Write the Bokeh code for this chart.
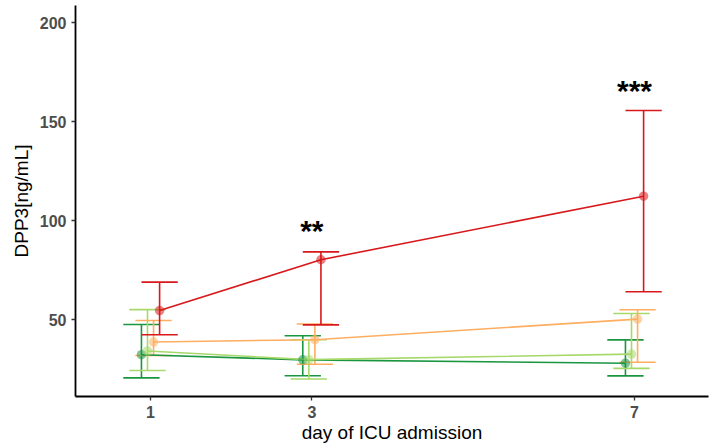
from bokeh.plotting import figure
from bokeh.models import FixedTicker, Range1d, ColumnDataSource
from bokeh.embed import file_html
from bokeh.resources import INLINE
from bokeh.core.properties import value

# ---- data -------------------------------------------------------------
days = [1, 3, 7]
day_labels = ["1", "3", "7"]
y_ticks = [50, 100, 150, 200]

groups = ["group 1", "group 2", "group 3", "group 4"]
colors = ["#1a9641", "#a6d96a", "#fdae61", "#d7191c"]
dodge = [-0.1125, -0.0375, 0.0375, 0.1125]

g1_mean = [32.3, 29.7, 28.0]
g1_low = [20.6, 21.7, 21.6]
g1_high = [47.6, 41.9, 39.8]

g2_mean = [34.2, 29.8, 32.6]
g2_low = [24.3, 20.0, 25.4]
g2_high = [55.1, 39.9, 53.1]

g3_mean = [38.7, 39.9, 50.3]
g3_low = [31.9, 27.5, 28.5]
g3_high = [49.6, 47.8, 55.0]

g4_mean = [54.6, 80.3, 112.4]
g4_low = [42.4, 47.4, 64.1]
g4_high = [69.0, 84.3, 155.7]

means = [g1_mean, g2_mean, g3_mean, g4_mean]
lows = [g1_low, g2_low, g3_low, g4_low]
highs = [g1_high, g2_high, g3_high, g4_high]

sig_days = [3, 7]
sig_labels = ["**", "***"]
sig_y = [95.0, 165.6]

cap_half = 0.225
FONT = "Liberation Sans"

# ---- figure -----------------------------------------------------------
p = figure(width=709, height=445, output_backend="svg", toolbar_location=None,
           x_range=Range1d(0.07, 7.917), y_range=Range1d(11.18, 208.8),
           min_border_left=75, min_border_right=1, min_border_top=5,
           min_border_bottom=48)
p.title.visible = False
p.outline_line_color = None
p.xgrid.visible = False
p.ygrid.visible = False
p.background_fill_color = "white"
p.border_fill_color = "white"

# error bars
for k in range(4):
    xs = [d + dodge[k] for d in days]
    src = ColumnDataSource(dict(x=xs, lo=lows[k], hi=highs[k],
                                x0=[x - cap_half for x in xs],
                                x1=[x + cap_half for x in xs]))
    p.segment(x0="x", y0="lo", x1="x", y1="hi", source=src,
              line_color=colors[k], line_width=1.6)
    p.segment(x0="x0", y0="hi", x1="x1", y1="hi", source=src,
              line_color=colors[k], line_width=1.6)
    p.segment(x0="x0", y0="lo", x1="x1", y1="lo", source=src,
              line_color=colors[k], line_width=1.6)

# lines
for k in range(4):
    xs = [d + dodge[k] for d in days]
    p.line(xs, means[k], line_color=colors[k], line_width=1.6)

# points
for k in range(4):
    xs = [d + dodge[k] for d in days]
    p.scatter(xs, means[k], size=9.5, fill_color=colors[k], fill_alpha=0.55,
              line_color=None)

# significance marks
p.text(x=sig_days, y=sig_y, text=sig_labels, text_font=value(FONT),
       text_font_size="30px", text_font_style="bold", text_align="center",
       text_baseline="alphabetic", text_color="black")

# axes
for ax in (p.xaxis[0], p.yaxis[0]):
    ax.axis_line_color = "black"
    ax.axis_line_width = 1.8
    ax.major_tick_line_color = "#333333"
    ax.major_tick_line_width = 1.3
    ax.major_tick_out = 4
    ax.major_tick_in = 0
    ax.minor_tick_line_color = None
    ax.major_label_text_font = FONT
    ax.major_label_text_font_size = "16px"
    ax.major_label_text_font_style = "bold"
    ax.major_label_text_color = "#4d4d4d"
    ax.axis_label_text_font = FONT
    ax.axis_label_text_font_style = "normal"
    ax.axis_label_text_color = "black"

p.xaxis.ticker = FixedTicker(ticks=days)
p.xaxis.major_label_overrides = {d: s for d, s in zip(days, day_labels)}
p.xaxis.major_label_standoff = 5
p.xaxis.major_label_text_line_height = 1.0
p.xaxis.axis_label = "day of ICU admission"
p.xaxis.axis_label_text_font_size = "19px"
p.xaxis.axis_label_text_line_height = 1.0
p.xaxis.axis_label_standoff = 1

p.yaxis.ticker = FixedTicker(ticks=y_ticks)
p.yaxis.major_label_standoff = 5
p.yaxis.axis_label = "DPP3[ng/mL]"
p.yaxis.axis_label_text_font_size = "19px"
p.yaxis.axis_label_standoff = 5

open("out.html", "w").write(file_html(p, INLINE))
